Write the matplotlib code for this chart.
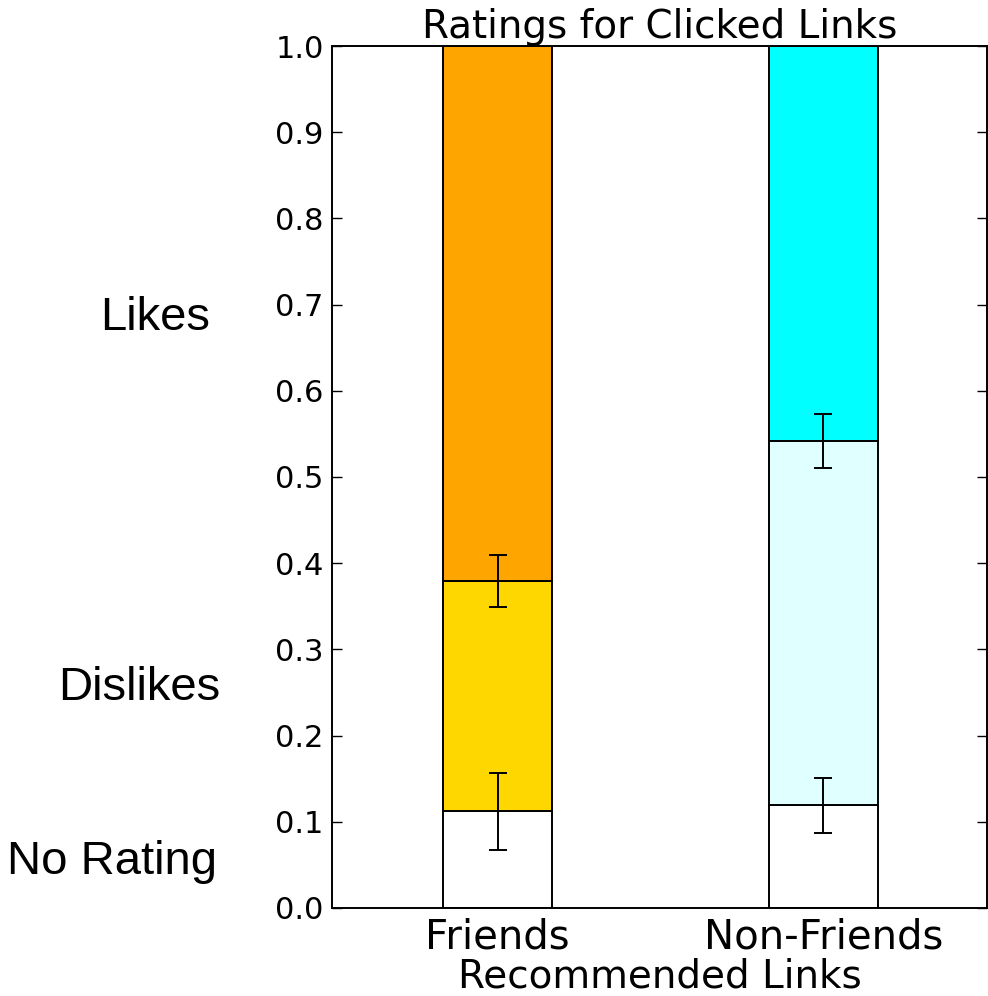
import matplotlib

matplotlib.use("Agg")
import matplotlib.pyplot as plt
import numpy as np

groups = ["Friends", "Non-Friends"]
no_rating = [0.112, 0.119]
dislikes = [0.267, 0.423]
likes = [0.621, 0.458]
err_no_rating = [0.045, 0.032]
err_dislikes = [0.030, 0.031]
segment_names = ["Likes", "Dislikes", "No Rating"]

colors = {
    "Friends": ["white", "#FFD700", "#FFA500"],
    "Non-Friends": ["white", "#E0FFFF", "#00FFFF"],
}

fig = plt.figure(figsize=(9.88, 9.96), dpi=100)
ax = fig.add_axes([0.336, 0.0884, 0.663, 0.8654])

x = np.arange(len(groups))
width = 0.334
edge = dict(edgecolor="black", linewidth=1.4)
for i, g in enumerate(groups):
    c = colors[g]
    ax.bar(x[i], no_rating[i], width, color=c[0], **edge)
    ax.bar(x[i], dislikes[i], width, bottom=no_rating[i], color=c[1], **edge)
    ax.bar(x[i], likes[i], width, bottom=no_rating[i] + dislikes[i], color=c[2], **edge)

ebar = dict(fmt="none", ecolor="black", elinewidth=1.4, capsize=6.5, capthick=1.4)
ax.errorbar(x, no_rating, yerr=err_no_rating, **ebar)
ax.errorbar(x, np.add(no_rating, dislikes), yerr=err_dislikes, **ebar)

ax.set_xlim(-0.508, 1.502)
ax.set_ylim(0, 1)
ax.set_yticks(np.arange(0, 1.01, 0.1))
ax.set_yticklabels([f"{v:.1f}" for v in np.arange(0, 1.01, 0.1)])
ax.set_xticks(x)
ax.set_xticklabels(groups, fontsize=29)
ax.tick_params(axis="y", direction="in", length=7, width=1, left=True, right=True,
               labelsize=22, pad=6)
ax.tick_params(axis="x", length=0, pad=7)
for s in ax.spines.values():
    s.set_linewidth(1.4)

ax.set_title("Ratings for Clicked Links", fontsize=28, pad=5)
ax.set_xlabel("Recommended Links", fontsize=28, labelpad=0)

# category labels to the left of the axis
label_pos = {"Likes": (100, 318), "Dislikes": (58, 688), "No Rating": (7, 862)}
W, H = fig.get_size_inches() * fig.dpi
for name in segment_names:
    px, py = label_pos[name]
    fig.text(px / W, 1 - py / H, name, fontsize=34, family="Liberation Sans",
             ha="left", va="center")

fig.savefig("out.png", dpi=100)
